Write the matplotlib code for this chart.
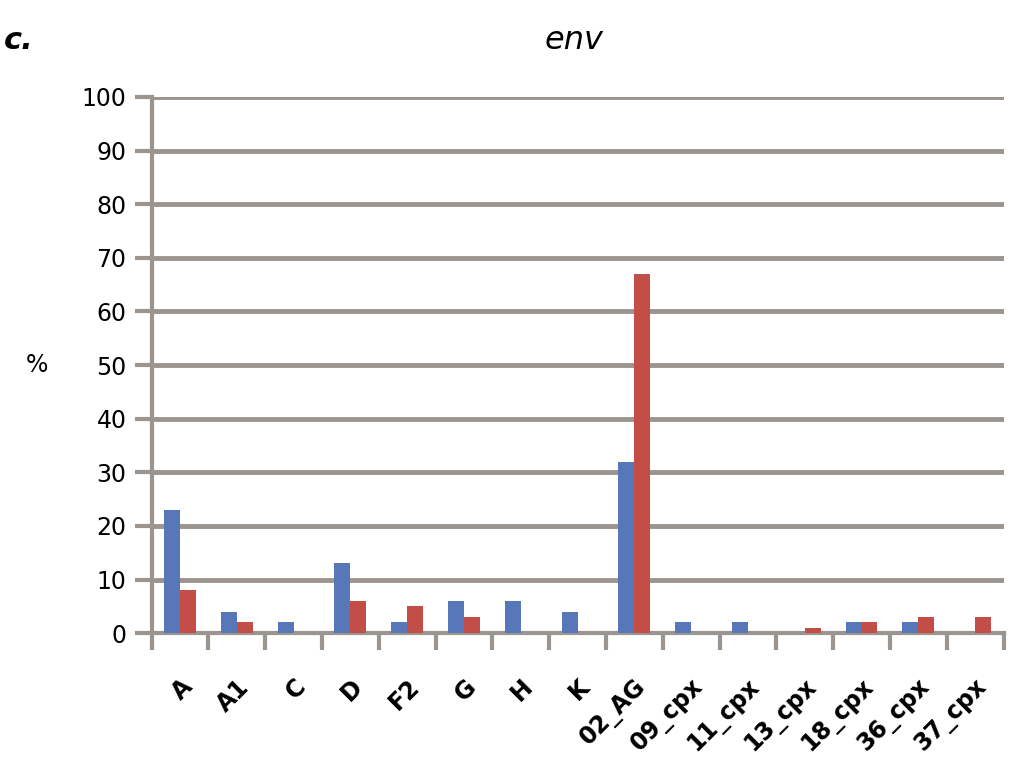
import numpy as np
import matplotlib.pyplot as plt

subtypes = ["A", "A1", "C", "D", "F2", "G", "H", "K", "02_AG",
            "09_cpx", "11_cpx", "13_cpx", "18_cpx", "36_cpx", "37_cpx"]
blue_vals = [23, 4, 2, 13, 2, 6, 6, 4, 32, 2, 2, 0, 2, 2, 0]
red_vals = [8, 2, 0, 6, 5, 3, 0, 0, 67, 0, 0, 1, 2, 3, 3]

grid_col = "#9c948e"

fig = plt.figure(figsize=(10.24, 7.75), dpi=100)
ax = fig.add_axes([0.148, 0.183, 0.832, 0.692])

x = np.arange(len(subtypes))
w = 0.28
ax.bar(x - w / 2, blue_vals, width=w, color="#5877b9", zorder=3)
ax.bar(x + w / 2, red_vals, width=w, color="#c24e47", zorder=3)

ax.set_xlim(-0.5, len(subtypes) - 0.5)
ax.set_ylim(0, 100)
ax.set_yticks(range(0, 101, 10))
ax.yaxis.grid(True, color=grid_col, linewidth=3.5, zorder=1)

# category separators as tick marks
ax.set_xticks(np.arange(-0.5, len(subtypes)), minor=False)
ax.set_xticklabels([])
ax.set_xticks(x, minor=True)
ax.set_xticklabels(subtypes, minor=True, rotation=45, ha="right",
                   rotation_mode="anchor", fontsize=17, fontweight="bold")
ax.tick_params(axis="x", which="minor", length=0, pad=30)
ax.tick_params(axis="x", which="major", length=12, width=3, color=grid_col)
ax.tick_params(axis="y", length=12, width=3, color=grid_col, labelsize=17, pad=6)

for s in ["top", "right"]:
    ax.spines[s].set_visible(False)
for s in ["left", "bottom"]:
    ax.spines[s].set_color(grid_col)
    ax.spines[s].set_linewidth(3)

ax.set_ylabel("%", rotation=0, fontsize=17, va="center")
ax.yaxis.set_label_coords(-0.135, 0.5)

fig.text(0.561, 0.948, "env", fontsize=23, style="italic", ha="center", va="center")
fig.text(0.004, 0.948, "c.", fontsize=22, style="italic", fontweight="bold",
         ha="left", va="center")

fig.savefig("out.png", dpi=100)
